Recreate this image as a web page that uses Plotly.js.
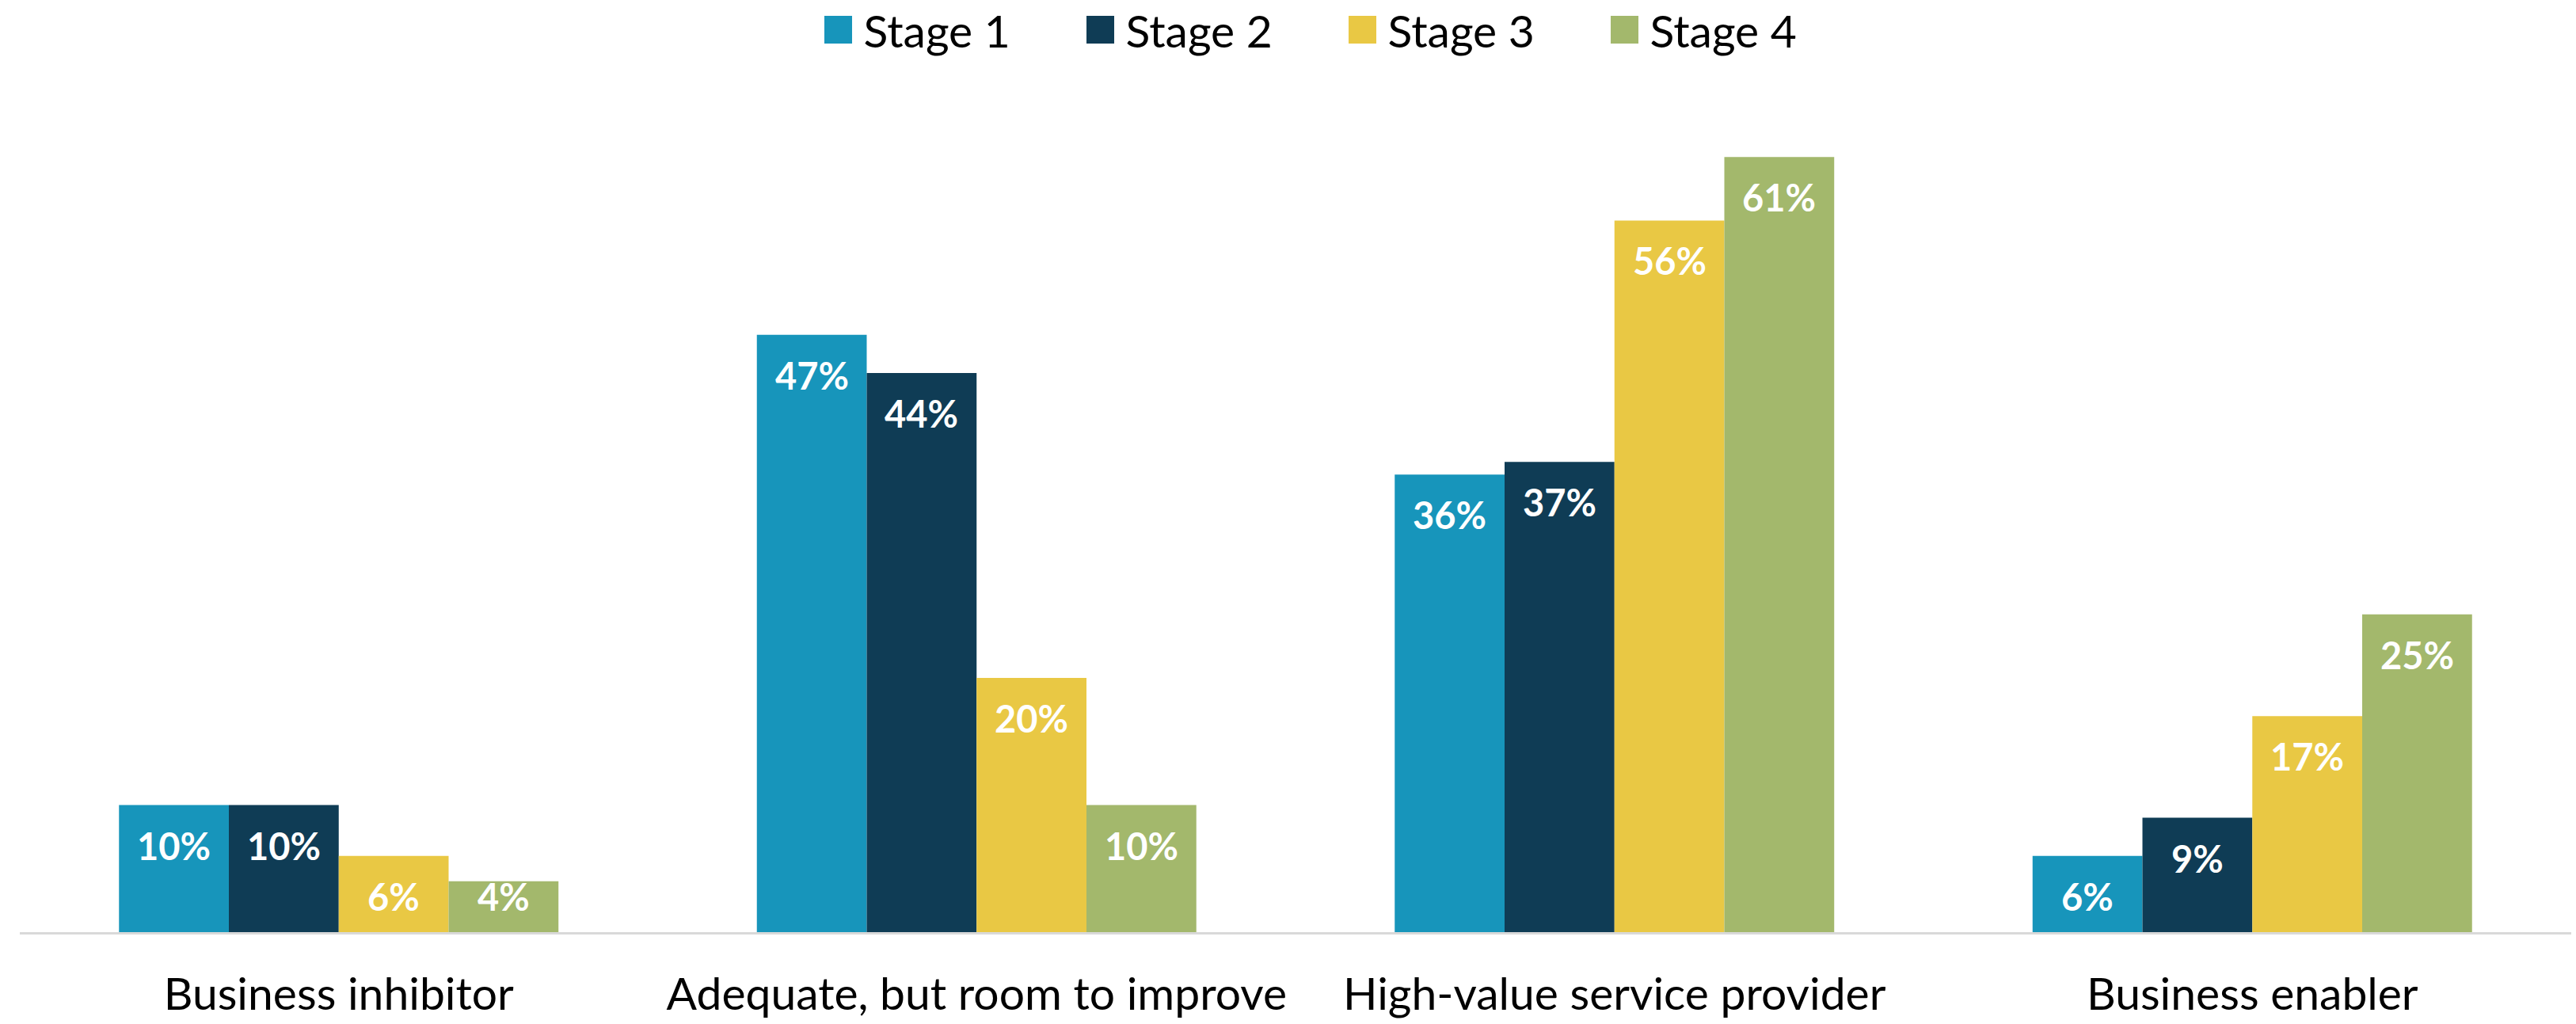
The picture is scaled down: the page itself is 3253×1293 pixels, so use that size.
<!DOCTYPE html>
<html>
<head>
<meta charset="utf-8">
<script src="https://cdn.plot.ly/plotly-3.0.1.min.js"></script>
<style>
  html, body { margin: 0; padding: 0; background: #ffffff; }
  #chart { width: 3253px; height: 1293px; }
</style>
</head>
<body>
<div id="chart"></div>
<script>
// ---- Data ----
const categories = ["Business inhibitor", "Adequate, but room to improve", "High-value service provider", "Business enabler"];
const seriesNames = ["Stage 1", "Stage 2", "Stage 3", "Stage 4"];
const stage1 = [10, 47, 36, 6];
const stage2 = [10, 44, 37, 9];
const stage3 = [6, 20, 56, 17];
const stage4 = [4, 10, 61, 25];
const seriesValues = [stage1, stage2, stage3, stage4];

// ---- Styles ----
const colors = ["#1795BB", "#0F3C55", "#E9C844", "#A3B86C"];
const FONT = "Lato, 'Source Sans Pro', 'Liberation Sans', sans-serif";
const BARGAP = 0.311;
const LABEL_MIN_BASE = 6;   // labels on very short bars stay inside the bar

const traces = seriesValues.map((vals, i) => ({
  type: "bar",
  name: seriesNames[i],
  x: categories,
  y: vals,
  marker: { color: colors[i], line: { width: 0 } },
  hoverinfo: "skip"
}));

// value labels placed through the axis scales
const nSeries = seriesValues.length;
const barW = (1 - BARGAP) / nSeries;
const annotations = [];
seriesValues.forEach((vals, j) => {
  vals.forEach((v, i) => {
    annotations.push({
      xref: "x", yref: "y",
      x: i + (j - (nSeries - 1) / 2) * barW,
      y: Math.max(v, LABEL_MIN_BASE),
      yanchor: "middle", xanchor: "center",
      yshift: -51,
      text: v + "%",
      showarrow: false,
      font: { family: FONT, size: 47, color: "#ffffff", weight: 700 }
    });
  });
});

const layout = {
  width: 3253,
  height: 1293,
  margin: { l: 25, r: 6, t: 134, b: 116, pad: 0, autoexpand: false },
  paper_bgcolor: "#ffffff",
  plot_bgcolor: "#ffffff",
  font: { family: FONT, color: "#000000" },
  barmode: "group",
  bargap: BARGAP,
  bargroupgap: 0,
  showlegend: true,
  legend: {
    orientation: "h",
    x: 0.5163, xanchor: "center",
    y: 1.092, yanchor: "middle",
    font: { family: FONT, size: 57, color: "#000000" },
    itemwidth: 54,
    entrywidth: 262,
    entrywidthmode: "pixels",
    traceorder: "normal",
    bgcolor: "rgba(0,0,0,0)"
  },
  xaxis: {
    type: "category",
    showline: true,
    linecolor: "#d9d9d9",
    linewidth: 3,
    ticks: "",
    showgrid: false,
    zeroline: false,
    tickfont: { family: FONT, size: 57, color: "#000000" },
    ticklabelstandoff: 27,
    fixedrange: true
  },
  yaxis: {
    range: [0, 65],
    visible: false,
    showgrid: false,
    zeroline: false,
    fixedrange: true
  },
  annotations: annotations
};

Plotly.newPlot("chart", traces, layout, { displayModeBar: false, staticPlot: true }).then(function (gd) {
  // enlarge legend swatches to match the reference
  gd.querySelectorAll(".legend .legendpoints path").forEach(function (p) {
    p.setAttribute("d", "M17.5,17.5H-17.5V-17.5H17.5Z");
  });
});
</script>
</body>
</html>
